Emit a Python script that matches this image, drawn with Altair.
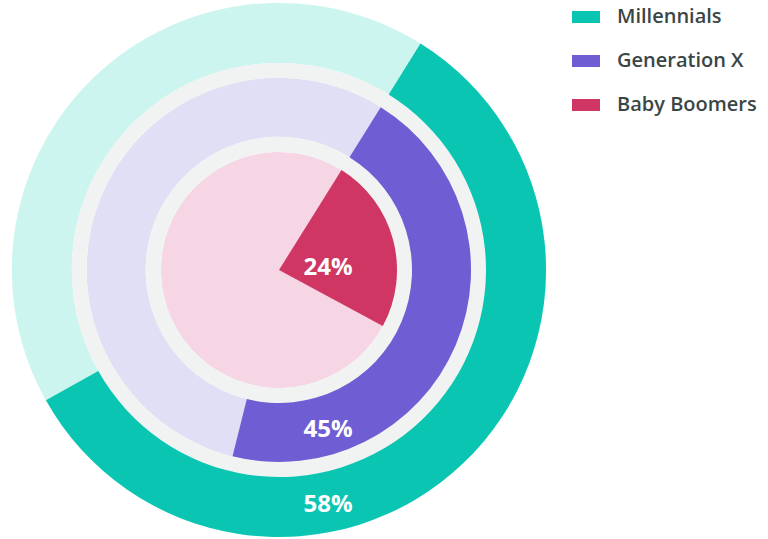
import math
import altair as alt
import pandas as pd

generations = ["Millennials", "Generation X", "Baby Boomers"]
values = [58, 45, 24]
labels = ["58%", "45%", "24%"]
dark_colors = ["#0bc5b3", "#6f5ed3", "#cf3664"]
light_colors = ["#cdf5ef", "#e1dff5", "#f6d6e4"]

df = pd.DataFrame({
    "generation": generations,
    "value": values,
    "label": labels,
    "start": [0] * 3,
    "full": [100] * 3,
})

CX, CY = 279, 270
start = math.radians(32)
theta_scale = alt.Scale(domain=[0, 100], range=[start, start + 2 * math.pi])
color_scale = alt.Scale(domain=generations, range=dark_colors)

rings = {
    "Millennials": (267, 207),
    "Generation X": (192, 133),
    "Baby Boomers": (118, 0),
}
gaps = [(207, 192), (133, 118)]
label_dy = {"Millennials": 235, "Generation X": 160, "Baby Boomers": -2}

base = alt.Chart(df)
layers = []
for g, light in zip(generations, light_colors):
    r, r2 = rings[g]
    layers.append(
        base.transform_filter(alt.datum.generation == g)
        .mark_arc(radius=r, radius2=r2)
        .encode(
            theta=alt.Theta("start:Q", scale=theta_scale),
            theta2="full:Q",
            x=alt.value(CX), y=alt.value(CY),
            color=alt.value(light),
        )
    )
for r, r2 in gaps:
    layers.append(
        base.transform_filter(alt.datum.generation == generations[0])
        .mark_arc(radius=r, radius2=r2)
        .encode(
            theta=alt.Theta("start:Q", scale=theta_scale),
            theta2="full:Q",
            x=alt.value(CX), y=alt.value(CY),
            color=alt.value("#f1f2f2"),
        )
    )
for g in generations:
    r, r2 = rings[g]
    layers.append(
        base.transform_filter(alt.datum.generation == g)
        .mark_arc(radius=r, radius2=r2)
        .encode(
            theta=alt.Theta("start:Q", scale=theta_scale),
            theta2="value:Q",
            x=alt.value(CX), y=alt.value(CY),
            color=alt.Color(
                "generation:N", scale=color_scale,
                legend=alt.Legend(
                    title=None, orient="none", legendX=572, legendY=3,
                    symbolType="M-1,-0.43L1,-0.43L1,0.43L-1,0.43Z",
                    symbolSize=784, symbolStrokeWidth=0, symbolOpacity=1,
                    labelFont="Open Sans", labelFontSize=20, labelFontWeight=600,
                    labelColor="#3a4646", labelOffset=17, rowPadding=20,
                    labelLimit=300,
                ),
            ),
        )
    )
for g in generations:
    layers.append(
        base.transform_filter(alt.datum.generation == g)
        .mark_text(dx=49, dy=label_dy[g], font="Open Sans", fontSize=24,
                   fontWeight="bold", color="white", align="center",
                   baseline="middle")
        .encode(text="label:N", x=alt.value(CX), y=alt.value(CY))
    )

chart = (
    alt.layer(*layers)
    .properties(width=768, height=539, padding=0, autosize="none",
                background="white")
    .configure_view(stroke=None)
)
chart.save("out.html", embed_options={"renderer": "svg", "actions": False})
